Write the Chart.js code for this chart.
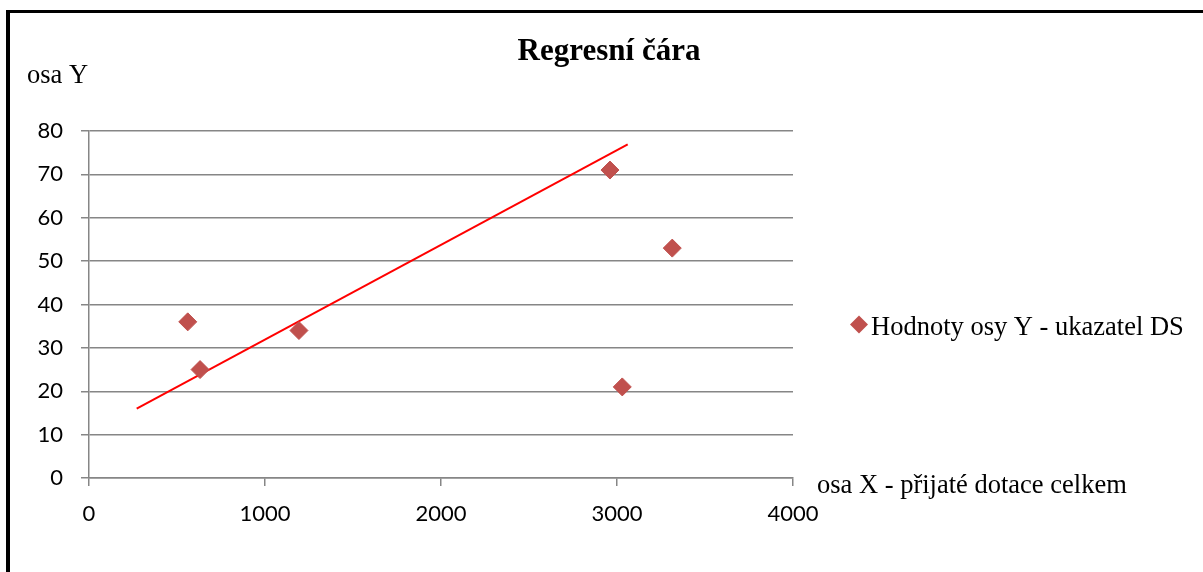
<!DOCTYPE html>
<html>
<head>
<meta charset="utf-8">
<title>Regresní čára</title>
<script src="https://cdn.jsdelivr.net/npm/chart.js@4.4.1/dist/chart.umd.min.js"></script>
<style>
  html, body { margin: 0; padding: 0; background: #fff; }
  #wrap { position: relative; width: 1203px; height: 572px; overflow: hidden; }
  #frame {
    position: absolute; left: 6px; top: 10px; width: 1300px; height: 600px;
    border-left: 4px solid #000; border-top: 3px solid #000; pointer-events: none;
  }
</style>
</head>
<body>
<div id="wrap">
  <canvas id="chart"></canvas>
  <div id="frame"></div>
</div>
<script>
// data
const xValues = [561, 631, 1193, 2960, 3030, 3314]
const yValues = [36, 25, 34, 71, 21, 53]
// regression line end points
const lineX = [271, 3061]
const lineY = [16, 76.9]

const xTicks = [0, 1000, 2000, 3000, 4000]
const yTicks = [0, 10, 20, 30, 40, 50, 60, 70, 80]

const chartTitle = 'Regresní čára'
const seriesName = 'Hodnoty osy Y - ukazatel DS'
const xTitle = 'osa X - přijaté dotace celkem'
const yTitle = 'osa Y'

const pointColor = '#C0504D'
const gridColor = '#868686'
const serif = '"Liberation Serif", "Times New Roman", serif'
const sans = 'Lato, "Open Sans", sans-serif'

const points = xValues.map((x, i) => ({ x: x, y: yValues[i] }))
const line = lineX.map((x, i) => ({ x: x, y: lineY[i] }))

// texts around the plot: title, axis titles, legend
const textPlugin = {
  id: 'texts',
  afterDraw (chart) {
    const ctx = chart.ctx
    const a = chart.chartArea
    ctx.save()
    ctx.fillStyle = '#000'
    ctx.textBaseline = 'alphabetic'

    ctx.font = 'bold 31px ' + serif
    ctx.textAlign = 'center'
    ctx.fillText(chartTitle, 609, 60)

    ctx.font = '26.5px ' + serif
    ctx.textAlign = 'left'
    ctx.fillText(yTitle, a.left - 62, a.top - 48)
    ctx.fillText(xTitle, a.right + 24, a.bottom + 15)

    // legend
    const lx = 859
    const ly = 324.5
    const r = 9
    ctx.fillStyle = pointColor
    ctx.beginPath()
    ctx.moveTo(lx, ly - r)
    ctx.lineTo(lx + r, ly)
    ctx.lineTo(lx, ly + r)
    ctx.lineTo(lx - r, ly)
    ctx.closePath()
    ctx.fill()
    ctx.fillStyle = '#000'
    ctx.fillText(seriesName, 871, 335)
    ctx.restore()
  }
}

new Chart(document.getElementById('chart'), {
  type: 'scatter',
  data: {
    datasets: [
      {
        label: seriesName,
        data: points,
        pointStyle: 'rectRot',
        pointRadius: 9,
        pointHoverRadius: 9,
        backgroundColor: pointColor,
        borderColor: pointColor,
        borderWidth: 1
      },
      {
        label: 'regrese',
        data: line,
        showLine: true,
        pointRadius: 0,
        borderColor: '#ff0000',
        borderWidth: 2,
        fill: false
      }
    ]
  },
  options: {
    responsive: true,
    maintainAspectRatio: false,
    animation: false,
    layout: { padding: { left: 0, right: 410, top: 131, bottom: 0 } },
    plugins: {
      legend: { display: false },
      title: { display: false },
      tooltip: { enabled: false }
    },
    scales: {
      x: {
        type: 'linear',
        min: 0,
        max: 4000,
        afterBuildTicks: scale => { scale.ticks = xTicks.map(v => ({ value: v })) },
        afterFit: scale => { scale.height = 94 },
        grid: { drawOnChartArea: false, drawTicks: true, tickLength: 8, color: gridColor, lineWidth: 1.5 },
        border: { color: gridColor, width: 1.5 },
        ticks: { color: '#000', font: { family: sans, size: 22 }, padding: 15, maxRotation: 0, callback: v => String(v) }
      },
      y: {
        min: 0,
        max: 80,
        afterBuildTicks: scale => { scale.ticks = yTicks.map(v => ({ value: v })) },
        afterFit: scale => { scale.width = 89 },
        grid: { color: gridColor, lineWidth: 1.5, tickLength: 8 },
        border: { color: gridColor, width: 1.5 },
        ticks: { color: '#000', font: { family: sans, size: 22 }, padding: 18, callback: v => String(v) }
      }
    }
  },
  plugins: [textPlugin]
})
</script>
</body>
</html>
